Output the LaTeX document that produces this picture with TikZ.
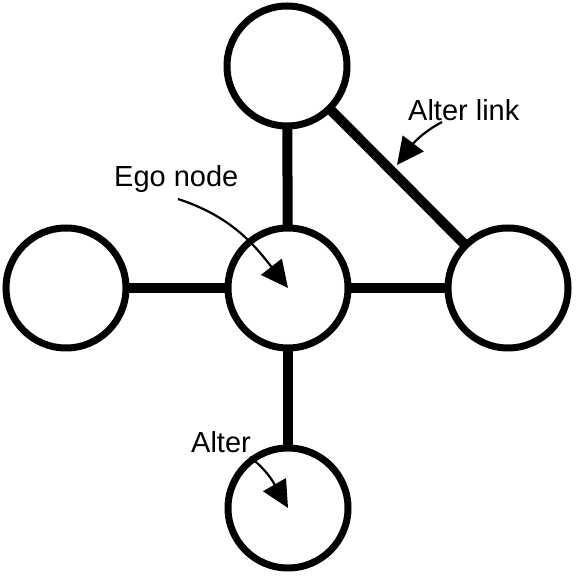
\documentclass[tikz,border=0pt]{standalone}
\usepackage{fontspec}
\setmainfont{Liberation Sans}
\usetikzlibrary{arrows.meta}
\begin{document}
\begin{tikzpicture}[x=1pt,y=1pt,
  person/.style={circle,draw,line width=7pt,minimum size=120pt,inner sep=0pt,fill=white},
  tie/.style={line width=10pt},
  lbl/.style={inner sep=0pt,anchor=base west,font=\fontsize{29}{35}\selectfont},
  pointer/.style={line width=2.2pt,-{Triangle[length=27pt,width=26pt]}}]
\useasboundingbox (0,0) rectangle (576,576);
\coordinate (egoC) at (288,288);
\coordinate (topC) at (287,510);
\coordinate (leftC) at (66,288);
\coordinate (rightC) at (508,288);
\coordinate (botC) at (288,68);
\draw[tie] (egoC) -- (topC);
\draw[tie] (egoC) -- (leftC);
\draw[tie] (egoC) -- (rightC);
\draw[tie] (egoC) -- (botC);
\draw[tie] (topC) -- (rightC);
\node[person] (ego) at (egoC) {};
\node[person] (top) at (topC) {};
\node[person] (left) at (leftC) {};
\node[person] (right) at (rightC) {};
\node[person] (bot) at (botC) {};
\node[lbl] (egolbl) at (114,389) {Ego node};
\node[lbl] (linklbl) at (408,455) {Alter link};
\node[lbl] (alterlbl) at (191,123) {Alter};
\coordinate (s1) at (178,377);
\coordinate (s2) at (442,454);
\coordinate (t2) at (397,411);
\coordinate (s3) at (250,119);
\draw[pointer] (s1) to[out=-18,in=128] (ego.center);
\draw[pointer] (s2) to[out=208,in=53] (t2);
\draw[pointer] (s3) to[out=-38,in=120] (bot.center);
\end{tikzpicture}
\end{document}
